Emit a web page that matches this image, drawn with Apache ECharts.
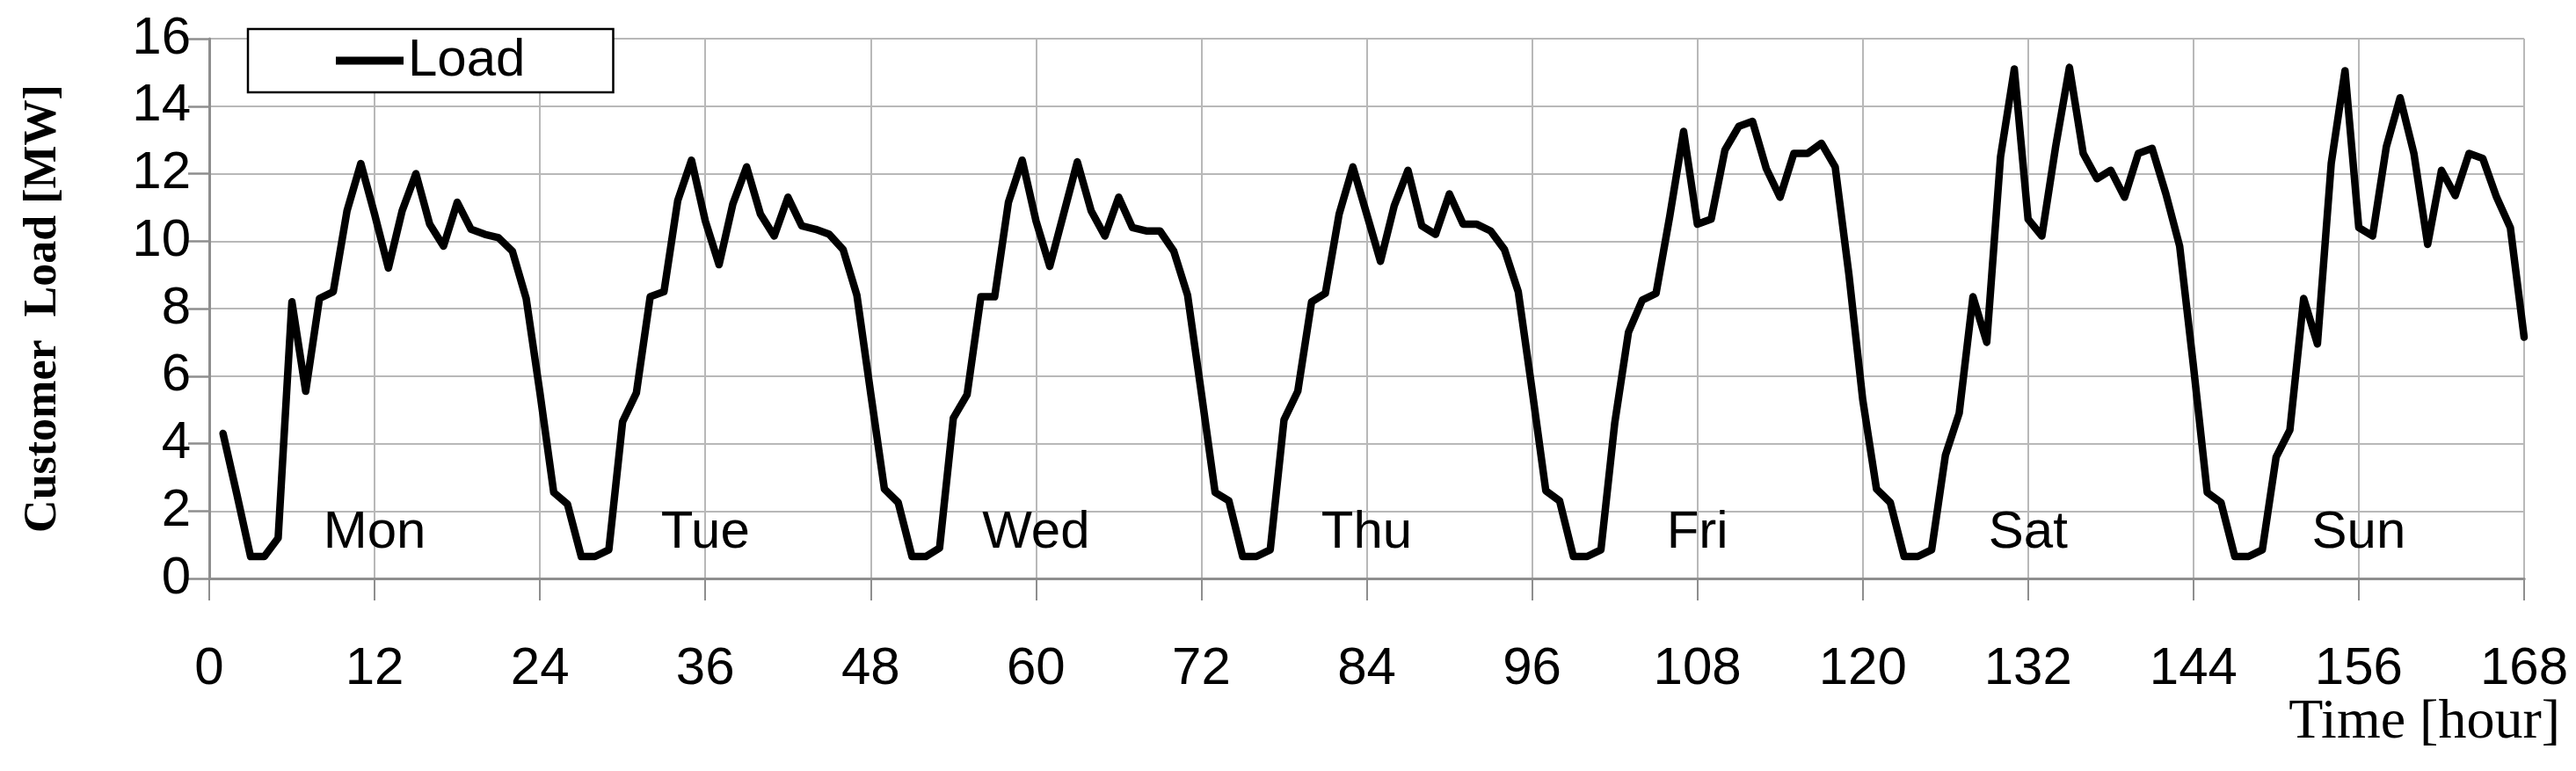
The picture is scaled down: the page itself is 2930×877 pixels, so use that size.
<!DOCTYPE html>
<html>
<head>
<meta charset="utf-8">
<title>Customer Load</title>
<script src="https://cdn.jsdelivr.net/npm/echarts@6/dist/echarts.min.js"></script>
<style>
    html, body {margin: 0; padding: 0; background: #fff;}
    #chart {width: 2930px; height: 877px;}
</style>
</head>
<body>
<div id="chart"></div>
<script>
// hourly load [MW], one array per day (hour 1 .. 168)
const mon = [4.3, 2.5, 0.65, 0.65, 1.2, 8.2, 5.55, 8.3, 8.5, 10.9, 12.3, 10.8, 9.2, 10.9, 12.0, 10.5, 9.85, 11.15, 10.35, 10.2, 10.1, 9.7, 8.3, 5.5]
const tue = [2.55, 2.2, 0.65, 0.65, 0.85, 4.65, 5.5, 8.35, 8.5, 11.2, 12.4, 10.6, 9.3, 11.1, 12.2, 10.8, 10.15, 11.3, 10.45, 10.35, 10.2, 9.75, 8.4, 5.5]
const wed = [2.65, 2.25, 0.65, 0.65, 0.9, 4.75, 5.45, 8.35, 8.35, 11.15, 12.4, 10.6, 9.25, 10.8, 12.35, 10.9, 10.15, 11.3, 10.4, 10.3, 10.3, 9.7, 8.4, 5.5]
const thu = [2.55, 2.3, 0.65, 0.65, 0.85, 4.7, 5.55, 8.2, 8.45, 10.8, 12.2, 10.8, 9.4, 11.05, 12.1, 10.45, 10.2, 11.4, 10.5, 10.5, 10.3, 9.75, 8.5, 5.6]
const fri = [2.6, 2.3, 0.65, 0.65, 0.85, 4.6, 7.3, 8.25, 8.45, 10.75, 13.25, 10.5, 10.65, 12.7, 13.4, 13.55, 12.15, 11.3, 12.6, 12.6, 12.9, 12.2, 9.0, 5.3]
const sat = [2.65, 2.25, 0.65, 0.65, 0.85, 3.65, 4.9, 8.35, 7.0, 12.5, 15.1, 10.65, 10.15, 12.8, 15.15, 12.6, 11.85, 12.1, 11.3, 12.6, 12.75, 11.4, 9.85, 6.3]
const sun = [2.55, 2.25, 0.65, 0.65, 0.85, 3.6, 4.4, 8.3, 6.95, 12.3, 15.05, 10.4, 10.15, 12.8, 14.25, 12.6, 9.9, 12.1, 11.35, 12.6, 12.45, 11.3, 10.4, 7.15]

const dayNames = ['Mon', 'Tue', 'Wed', 'Thu', 'Fri', 'Sat', 'Sun']
const xTicks = [0, 12, 24, 36, 48, 60, 72, 84, 96, 108, 120, 132, 144, 156, 168]
const yTicks = [0, 2, 4, 6, 8, 10, 12, 14, 16]

const days = [mon, tue, wed, thu, fri, sat, sun]
const sans = 'Liberation Sans'
const serif = 'Liberation Serif'
const gridGray = '#b8b8b8'
const axisGray = '#8e8e8e'

// [hour, load] pairs, hour counted from 1
const loadData = []
days.forEach((day, d) => {
    day.forEach((v, h) => {
        loadData.push([d * 24 + h + 1, v])
    })
})

// day names sit in the middle of each day, just above the floor
const dayLabelData = dayNames.map((name, d) => [d * 24 + 12, 1.35, name])

var chartDom = document.getElementById('chart');
var myChart = echarts.init(chartDom, null, {renderer: 'canvas'});
var option = {
    animation: false,
    backgroundColor: '#fff',
    title: {
        text: 'Time [hour]',
        right: 18,
        top: 790,
        padding: 0,
        textStyle: {fontFamily: serif, fontSize: 64, fontWeight: 'normal', color: '#000'}
    },
    legend: {
        data: ['Load'],
        left: 282,
        top: 33,
        padding: [4, 100],
        icon: 'rect',
        itemWidth: 77,
        itemHeight: 9,
        itemGap: 6,
        borderColor: '#000',
        borderWidth: 2.5,
        backgroundColor: '#fff',
        textStyle: {fontFamily: sans, fontSize: 60, color: '#000', lineHeight: 64, padding: [0, 0, 0, 0]}
    },
    grid: {
        left: 238,
        right: 59,
        top: 44,
        bottom: 219,
        containLabel: false
    },
    xAxis: [
        {
            type: 'value',
            min: xTicks[0],
            max: xTicks[xTicks.length - 1],
            interval: xTicks[1] - xTicks[0],
            axisLine: {show: true, lineStyle: {color: axisGray, width: 3}},
            axisTick: {show: true, inside: false, length: 25, lineStyle: {color: axisGray, width: 2}},
            axisLabel: {margin: 73, fontFamily: sans, fontSize: 60, color: '#000'},
            splitLine: {show: true, lineStyle: {color: gridGray, width: 2}}
        },
        {
            // top frame
            type: 'value',
            position: 'top',
            min: xTicks[0],
            max: xTicks[xTicks.length - 1],
            axisLine: {show: true, lineStyle: {color: axisGray, width: 3}},
            axisTick: {show: false},
            axisLabel: {show: false},
            splitLine: {show: false}
        }
    ],
    yAxis: [
        {
            type: 'value',
            min: yTicks[0],
            max: yTicks[yTicks.length - 1],
            interval: yTicks[1] - yTicks[0],
            name: 'Customer  Load [MW]',
            nameLocation: 'middle',
            nameGap: 162,
            nameTextStyle: {fontFamily: serif, fontSize: 52, fontWeight: 'bold', color: '#000'},
            axisLine: {show: false},
            axisTick: {show: true, inside: false, length: 24, lineStyle: {color: axisGray, width: 2.5}},
            axisLabel: {margin: 21, fontFamily: sans, fontSize: 60, color: '#000'},
            splitLine: {show: true, lineStyle: {color: gridGray, width: 2}}
        },
        {
            // right frame
            type: 'value',
            position: 'right',
            min: yTicks[0],
            max: yTicks[yTicks.length - 1],
            axisLine: {show: true, lineStyle: {color: axisGray, width: 3}},
            axisTick: {show: false},
            axisLabel: {show: false},
            splitLine: {show: false}
        }
    ],
    series: [
        {
            name: 'Load',
            type: 'line',
            xAxisIndex: 0,
            yAxisIndex: 0,
            data: loadData,
            showSymbol: false,
            symbol: 'none',
            color: '#000',
            lineStyle: {color: '#000', width: 8.5, join: 'round', cap: 'round'},
            z: 5
        },
        {
            name: 'days',
            type: 'scatter',
            xAxisIndex: 0,
            yAxisIndex: 0,
            data: dayLabelData,
            symbolSize: 0,
            silent: true,
            itemStyle: {opacity: 1, color: '#000'},
            label: {
                show: true,
                position: 'inside',
                formatter: p => p.data[2],
                fontFamily: sans,
                fontSize: 60,
                color: '#000',
                opacity: 1
            },
            z: 4
        }
    ]
};

option && myChart.setOption(option);
</script>
</body>
</html>
